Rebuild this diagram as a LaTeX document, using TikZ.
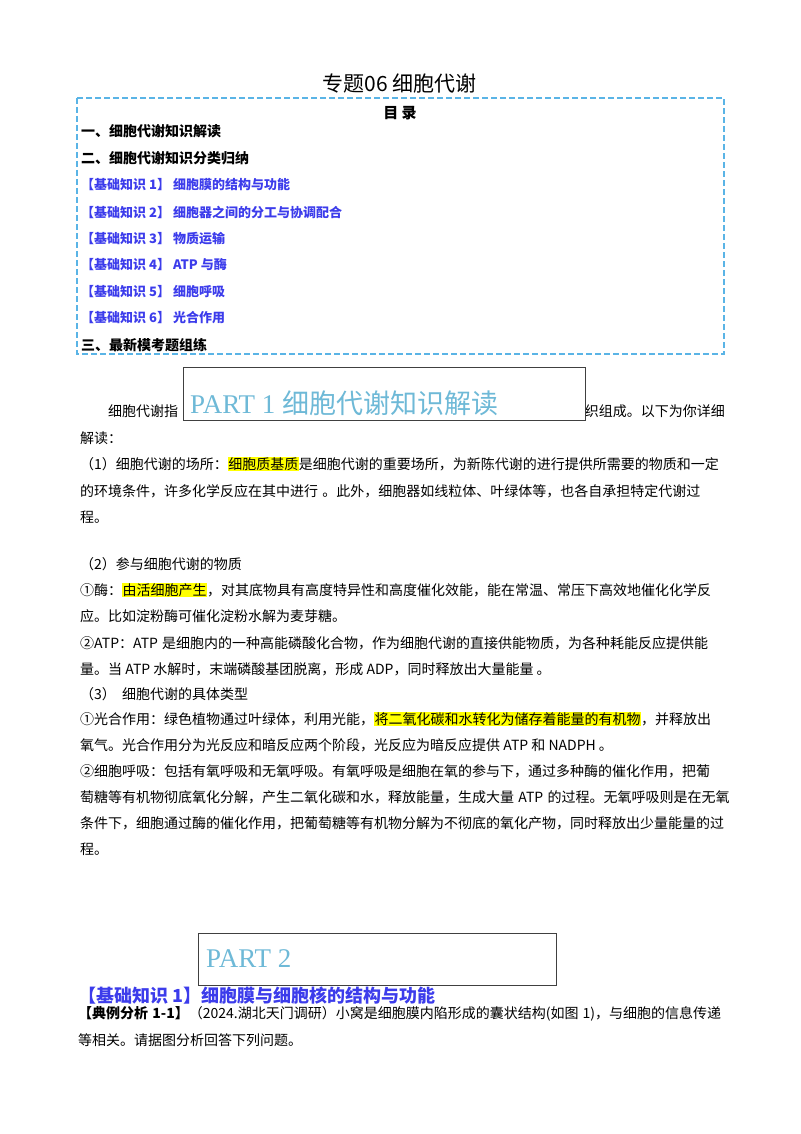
\documentclass[tikz,border=0pt]{standalone}
\usepackage{fontspec}
\setmainfont{Noto Sans CJK SC}
\newfontfamily\partfont{Liberation Serif}
\XeTeXlinebreaklocale "zh"
\XeTeXlinebreakskip=0pt plus 2pt
\definecolor{tocblue}{RGB}{60,60,235}
\definecolor{dashblue}{RGB}{90,180,230}
\definecolor{partblue}{RGB}{110,185,215}
\definecolor{hl}{RGB}{255,255,0}
\newcommand{\hlt}[1]{{\setlength{\fboxsep}{0.5pt}\colorbox{hl}{#1}}}
\newcommand{\fl}[1]{\hbox to 645pt{\spaceskip=0.3em\relax #1}}
\begin{document}
\begin{tikzpicture}[x=1pt,y=-1pt,
  body/.style={anchor=west,inner sep=0pt,font=\fontsize{14}{16}\selectfont},
  toc/.style={anchor=west,inner sep=0pt,font=\fontsize{14}{16}\selectfont\bfseries},
  tocb/.style={toc,text=tocblue,font=\fontsize{13}{15}\selectfont\bfseries},
  partbox/.style={draw=black!75,line width=1pt,fill=white},
  parttext/.style={anchor=west,inner sep=0pt,text=partblue,font=\fontsize{27}{30}\selectfont}]
\useasboundingbox (0,0) rectangle (800,1134);
\node[inner sep=0pt,font=\fontsize{21}{24}\selectfont] (title) at (400,84) {专题06\ 细胞代谢};
\draw[dashblue,line width=1.2pt,dash pattern=on 6pt off 3pt] (77,98) rectangle (724,354);
\node[inner sep=0pt,font=\fontsize{15}{18}\selectfont\bfseries] (mulu) at (400,113) {目\ 录};
\node[toc] (t1) at (81,131) {一、细胞代谢知识解读};
\node[toc] (t2) at (81,158) {二、细胞代谢知识分类归纳};
\node[tocb] (t3) at (81,185) {【基础知识 1】\ 细胞膜的结构与功能};
\node[tocb] (t4) at (81,212) {【基础知识 2】\ 细胞器之间的分工与协调配合};
\node[tocb] (t5) at (81,239) {【基础知识 3】\ 物质运输};
\node[tocb] (t6) at (81,265) {【基础知识 4】\ ATP 与酶};
\node[tocb] (t7) at (81,292) {【基础知识 5】\ 细胞呼吸};
\node[tocb] (t8) at (81,318) {【基础知识 6】\ 光合作用};
\node[toc] (t9) at (81,345) {三、最新模考题组练};
% body
\node[body] (l1a) at (108,411) {细胞代谢指};
\node[body,anchor=east] (l1b) at (725,411) {织组成。以下为你详细};
\node[body] (l2) at (80,438) {解读：};
\node[body] (l3) at (80,464) {\fl{（1）细胞代谢的场所：\hlt{细胞质基质}是细胞代谢的重要场所，为新陈代谢的进行提供所需要的物质和一定}};
\node[body] (l4) at (80,491) {\fl{的环境条件，许多化学反应在其中进行\ 。此外，细胞器如线粒体、叶绿体等，也各自承担特定代谢过}};
\node[body] (l5) at (80,517) {程。};
\node[body] (l6) at (80,564) {（2）参与细胞代谢的物质};
\node[body] (l7) at (80,590) {\fl{①酶：\hlt{由活细胞产生}，对其底物具有高度特异性和高度催化效能，能在常温、常压下高效地催化化学反}};
\node[body] (l8) at (80,616) {应。比如淀粉酶可催化淀粉水解为麦芽糖。};
\node[body] (l9) at (80,643) {\fl{②ATP：ATP 是细胞内的一种高能磷酸化合物，作为细胞代谢的直接供能物质，为各种耗能反应提供能}};
\node[body] (l10) at (80,669) {量。当 ATP 水解时，末端磷酸基团脱离，形成 ADP，同时释放出大量能量\ 。};
\node[body] (l11) at (80,694) {（3）\ \ 细胞代谢的具体类型};
\node[body] (l12) at (80,719) {\fl{①光合作用：绿色植物通过叶绿体，利用光能，\hlt{将二氧化碳和水转化为储存着能量的有机物}，并释放出}};
\node[body] (l13) at (80,745) {氧气。光合作用分为光反应和暗反应两个阶段，光反应为暗反应提供 ATP 和 NADPH 。};
\node[body] (l14) at (80,771) {\fl{②细胞呼吸：包括有氧呼吸和无氧呼吸。有氧呼吸是细胞在氧的参与下，通过多种酶的催化作用，把葡}};
\node[body] (l15) at (80,797) {\fl{萄糖等有机物彻底氧化分解，产生二氧化碳和水，释放能量，生成大量 ATP 的过程。无氧呼吸则是在无氧}};
\node[body] (l16) at (80,823) {\fl{条件下，细胞通过酶的催化作用，把葡萄糖等有机物分解为不彻底的氧化产物，同时释放出少量能量的过}};
\node[body] (l17) at (80,849) {程。};
% part boxes
\draw[partbox] (183,367) rectangle (585,420);
\node[parttext] (p1) at (190,403) {{\partfont PART 1\ }细胞代谢知识解读};
\draw[partbox] (198,933) rectangle (556,985);
\node[parttext] (p2) at (206,959) {\partfont PART 2};
\node[anchor=west,inner sep=0pt,text=tocblue,font=\fontsize{18}{21}\selectfont\bfseries] (h1) at (78,996) {【基础知识 1】细胞膜与细胞核的结构与功能};
\node[body] (e1) at (78,1014) {\fl{{\bfseries 【典例分析 1-1】}（2024.湖北天门调研）小窝是细胞膜内陷形成的囊状结构(如图 1)，与细胞的信息传递}};
\node[body] (e2) at (78,1040) {等相关。请据图分析回答下列问题。};
\end{tikzpicture}
\end{document}
